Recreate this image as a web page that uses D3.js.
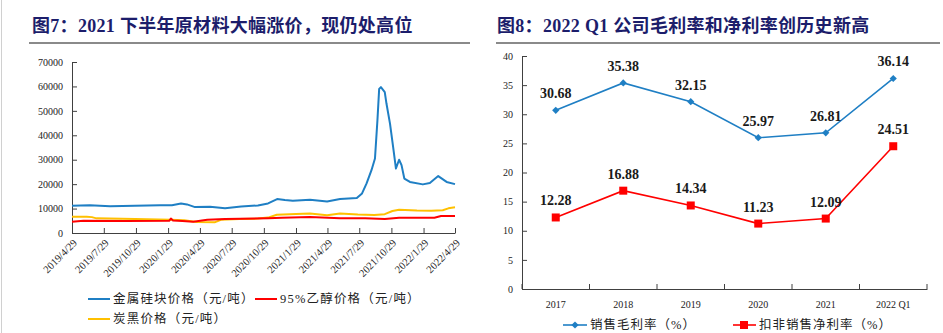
<!DOCTYPE html>
<html>
<head>
<meta charset="utf-8">
<script src="https://cdn.jsdelivr.net/npm/d3@7"></script>
<style>
  body { margin: 0; background: #fff; }
  svg { display: block; }
  .serif { font-family: "Liberation Serif", "Times New Roman", "Noto Sans CJK SC", serif; }
  .cjk { font-family: "Liberation Serif", "Noto Sans CJK SC", sans-serif; }
</style>
</head>
<body>
<div class="canvas"></div>
<script>
// raw material prices (yuan / ton), sampled at turning points
const siliconPrice = [
  ['2019-04-29', 11150], ['2019-06-19', 11400], ['2019-08-16', 11000], ['2019-10-26', 11200],
  ['2020-01-06', 11400], ['2020-02-09', 11400], ['2020-03-06', 12100], ['2020-03-23', 11700],
  ['2020-04-15', 10600], ['2020-05-28', 10700], ['2020-07-10', 10100], ['2020-08-25', 10800],
  ['2020-10-12', 11300], ['2020-11-10', 12100], ['2020-12-06', 13900], ['2020-12-28', 13500],
  ['2021-01-20', 13200], ['2021-03-10', 13600], ['2021-04-28', 12900], ['2021-06-04', 13900],
  ['2021-07-22', 14300], ['2021-08-06', 16200], ['2021-08-19', 20300], ['2021-09-02', 25700],
  ['2021-09-12', 30500], ['2021-09-19', 46100], ['2021-09-24', 59000], ['2021-09-29', 59700],
  ['2021-10-10', 57700], ['2021-10-15', 52900], ['2021-10-25', 44800], ['2021-11-03', 35200],
  ['2021-11-11', 26400], ['2021-11-20', 30000], ['2021-11-27', 27800], ['2021-12-05', 22300],
  ['2021-12-21', 20900], ['2022-01-27', 19900], ['2022-02-16', 20500], ['2022-03-12', 23300],
  ['2022-04-05', 20900], ['2022-04-29', 20000]
];
const ethanolPrice = [
  ['2019-04-29', 4600], ['2019-06-01', 5000], ['2019-10-01', 4950], ['2020-02-01', 5000],
  ['2020-02-06', 5900], ['2020-02-12', 5100], ['2020-03-10', 4900], ['2020-04-10', 4600],
  ['2020-05-20', 5400], ['2020-07-10', 5700], ['2020-11-10', 6000], ['2020-12-20', 6200],
  ['2021-03-10', 6500], ['2021-06-04', 6000], ['2021-08-15', 6000], ['2021-10-10', 5700],
  ['2021-11-20', 6200], ['2022-03-01', 6250], ['2022-03-20', 6950], ['2022-04-29', 6950]
];
const carbonBlackPrice = [
  ['2019-04-29', 6650], ['2019-06-10', 6700], ['2019-06-25', 6500], ['2019-07-08', 6000],
  ['2019-10-26', 5700], ['2020-02-05', 5400], ['2020-03-15', 5200], ['2020-04-20', 4500],
  ['2020-06-10', 4350], ['2020-06-28', 5400], ['2020-08-20', 5700], ['2020-10-12', 5900],
  ['2020-11-10', 6300], ['2020-12-05', 7500], ['2021-01-29', 7800], ['2021-03-10', 8000],
  ['2021-04-28', 7300], ['2021-06-04', 8000], ['2021-07-25', 7600], ['2021-09-10', 7400],
  ['2021-10-10', 7700], ['2021-11-01', 9000], ['2021-11-20', 9500], ['2022-01-10', 9200],
  ['2022-02-20', 9100], ['2022-03-25', 9300], ['2022-04-10', 10100], ['2022-04-29', 10500]
];
const priceTicks = ['2019/4/29', '2019/7/29', '2019/10/29', '2020/1/29', '2020/4/29', '2020/7/29',
  '2020/10/29', '2021/1/29', '2021/4/29', '2021/7/29', '2021/10/29', '2022/1/29', '2022/4/29'];
const priceNames = ['金属硅块价格（元/吨）', '95%乙醇价格（元/吨）', '炭黑价格（元/吨）'];

// margins (%)
const years = ['2017', '2018', '2019', '2020', '2021', '2022 Q1'];
const grossMargin = [30.68, 35.38, 32.15, 25.97, 26.81, 36.14];
const netMargin = [12.28, 16.88, 14.34, 11.23, 12.09, 24.51];
const marginNames = ['销售毛利率（%）', '扣非销售净利率（%）'];

const svgDimensions = { width: 943, height: 333 };
const axisColor = '#404040';
const blue = '#1f7fc4', red = '#ff0000', orange = '#ffc000';

const svg = d3.select('.canvas')
  .append('svg')
    .attr('width', svgDimensions.width)
    .attr('height', svgDimensions.height);

// thin page edge on the left
svg.append('line')
  .attr('x1', 1.5).attr('x2', 1.5).attr('y1', 0).attr('y2', svgDimensions.height)
  .attr('stroke', '#d0d0d0');

// titles with grey rule underneath
const titles = [
  { text: '图7：2021 下半年原材料大幅涨价，现仍处高位', x: 32, x1: 29, x2: 470 },
  { text: '图8：2022 Q1 公司毛利率和净利率创历史新高', x: 497, x1: 496, x2: 940 }
];
titles.forEach(t => {
  svg.append('text')
    .attr('class', 'cjk')
    .attr('x', t.x).attr('y', 32)
    .attr('font-size', 18).attr('font-weight', 'bold')
    .attr('letter-spacing', 0.3)
    .attr('fill', '#1c1d6b')
    .text(t.text);
  svg.append('line')
    .attr('x1', t.x1).attr('x2', t.x2).attr('y1', 43).attr('y2', 43)
    .attr('stroke', '#8a8a8a').attr('stroke-width', 2);
});

// ---------- left: price lines ----------
const parse = d3.timeParse('%Y-%m-%d');
const tickDates = priceTicks.map(d3.timeParse('%Y/%m/%d'));

const xTime = d3.scaleTime()
  .domain([tickDates[0], tickDates[tickDates.length - 1]])
  .range([72, 455]);
const yPrice = d3.scaleLinear().domain([0, 70000]).range([233, 62]);

const left = svg.append('g').attr('class', 'serif');

const xAxisL = left.append('g')
  .attr('transform', 'translate(0,233)')
  .call(d3.axisBottom(xTime).tickValues(tickDates).tickSizeInner(-5).tickSizeOuter(0).tickFormat(''));
xAxisL.selectAll('text').remove();

left.selectAll('.xlab')
  .data(tickDates)
  .enter()
  .append('text')
    .attr('class', 'xlab')
    .attr('transform', (d, i) => `translate(${xTime(d) + 3},241) rotate(-45)`)
    .attr('text-anchor', 'end')
    .attr('dy', '0.35em')
    .attr('font-size', 10.5)
    .attr('fill', '#222')
    .text((d, i) => priceTicks[i]);

const yAxisL = left.append('g')
  .attr('transform', 'translate(72,0)')
  .call(d3.axisLeft(yPrice).tickValues(d3.range(0, 70001, 10000)).tickSizeInner(-5).tickSizeOuter(0)
    .tickFormat(d3.format('d')).tickPadding(9));

[xAxisL, yAxisL].forEach(a => {
  a.select('.domain').attr('stroke', axisColor);
  a.selectAll('.tick line').attr('stroke', axisColor);
  a.selectAll('text').attr('font-size', 10).attr('fill', '#222')
    .attr('font-family', '"Liberation Serif", serif');
});

const priceLine = d3.line()
  .x(d => xTime(parse(d[0])))
  .y(d => yPrice(d[1]));

const priceSeries = [
  { values: carbonBlackPrice, color: orange },
  { values: ethanolPrice, color: red },
  { values: siliconPrice, color: blue }
];
left.selectAll('.price')
  .data(priceSeries)
  .enter()
  .append('path')
    .attr('class', 'price')
    .attr('d', d => priceLine(d.values))
    .attr('fill', 'none')
    .attr('stroke', d => d.color)
    .attr('stroke-width', 2)
    .attr('stroke-linejoin', 'round');

const priceLegend = [
  { name: priceNames[0], color: blue, x: 88, y: 299 },
  { name: priceNames[1], color: red, x: 255, y: 299 },
  { name: priceNames[2], color: orange, x: 88, y: 319 }
];
priceLegend.forEach(l => {
  left.append('line')
    .attr('x1', l.x).attr('x2', l.x + 22).attr('y1', l.y).attr('y2', l.y)
    .attr('stroke', l.color).attr('stroke-width', 2);
  left.append('text')
    .attr('class', 'cjk')
    .attr('x', l.x + 25).attr('y', l.y).attr('dy', '0.35em')
    .attr('font-size', 12.5).attr('letter-spacing', 1.2).attr('fill', '#222')
    .text(l.name);
});

// ---------- right: margins ----------
const xBand = d3.scaleBand().domain(years).range([522, 927]);
const yPct = d3.scaleLinear().domain([0, 40]).range([289, 56]);

const right = svg.append('g').attr('class', 'serif');

const xAxisR = right.append('g')
  .attr('transform', 'translate(0,289)')
  .call(d3.axisBottom(xBand).tickSize(0).tickPadding(12));
// boundary ticks between categories, pointing up
right.selectAll('.bound')
  .data(d3.range(years.length + 1))
  .enter()
  .append('line')
    .attr('x1', i => 522 + i * xBand.step()).attr('x2', i => 522 + i * xBand.step())
    .attr('y1', 289).attr('y2', 284)
    .attr('stroke', axisColor);

const yAxisR = right.append('g')
  .attr('transform', 'translate(522,0)')
  .call(d3.axisLeft(yPct).tickValues(d3.range(0, 41, 5)).tickSizeInner(-5).tickSizeOuter(0).tickPadding(9));

[xAxisR, yAxisR].forEach(a => {
  a.select('.domain').attr('stroke', axisColor);
  a.selectAll('.tick line').attr('stroke', axisColor);
  a.selectAll('text').attr('font-size', 10).attr('fill', '#222')
    .attr('font-family', '"Liberation Serif", serif');
});

const cx = (d, i) => xBand(years[i]) + xBand.bandwidth() / 2;
const marginLine = d3.line().x(cx).y(d => yPct(d));

// small diamond = square turned 45 degrees
const diamond = d3.symbol().type(d3.symbolSquare).size(26);

right.append('path')
  .attr('d', marginLine(grossMargin))
  .attr('fill', 'none').attr('stroke', blue).attr('stroke-width', 1.6);
right.append('path')
  .attr('d', marginLine(netMargin))
  .attr('fill', 'none').attr('stroke', red).attr('stroke-width', 1.6);

right.selectAll('.gm')
  .data(grossMargin)
  .enter()
  .append('path')
    .attr('class', 'gm')
    .attr('transform', (d, i) => `translate(${cx(d, i)},${yPct(d)}) rotate(45)`)
    .attr('d', diamond)
    .attr('fill', blue);

right.selectAll('.nm')
  .data(netMargin)
  .enter()
  .append('rect')
    .attr('class', 'nm')
    .attr('x', (d, i) => cx(d, i) - 4).attr('y', d => yPct(d) - 4)
    .attr('width', 8).attr('height', 8)
    .attr('fill', red);

[grossMargin, netMargin].forEach(series => {
  right.selectAll(null)
    .data(series)
    .enter()
    .append('text')
      .attr('x', (d, i) => cx(d, i))
      .attr('y', d => yPct(d) - 12)
      .attr('text-anchor', 'middle')
      .attr('font-size', 14).attr('font-weight', 'bold')
      .attr('fill', '#1a1a1a')
      .text(d => d.toFixed(2));
});

// legend
right.append('line')
  .attr('x1', 563).attr('x2', 587).attr('y1', 325).attr('y2', 325)
  .attr('stroke', blue).attr('stroke-width', 1.6);
right.append('path')
  .attr('transform', 'translate(575,325) rotate(45)')
  .attr('d', diamond).attr('fill', blue);
right.append('text')
  .attr('class', 'cjk')
  .attr('x', 590).attr('y', 325).attr('dy', '0.35em')
  .attr('font-size', 12.5).attr('letter-spacing', 1).attr('fill', '#222')
  .text(marginNames[0]);

right.append('line')
  .attr('x1', 733).attr('x2', 756).attr('y1', 325).attr('y2', 325)
  .attr('stroke', red).attr('stroke-width', 1.6);
right.append('rect')
  .attr('x', 740).attr('y', 321).attr('width', 8).attr('height', 8)
  .attr('fill', red);
right.append('text')
  .attr('class', 'cjk')
  .attr('x', 759).attr('y', 325).attr('dy', '0.35em')
  .attr('font-size', 12.5).attr('letter-spacing', 1).attr('fill', '#222')
  .text(marginNames[1]);
</script>
</body>
</html>
